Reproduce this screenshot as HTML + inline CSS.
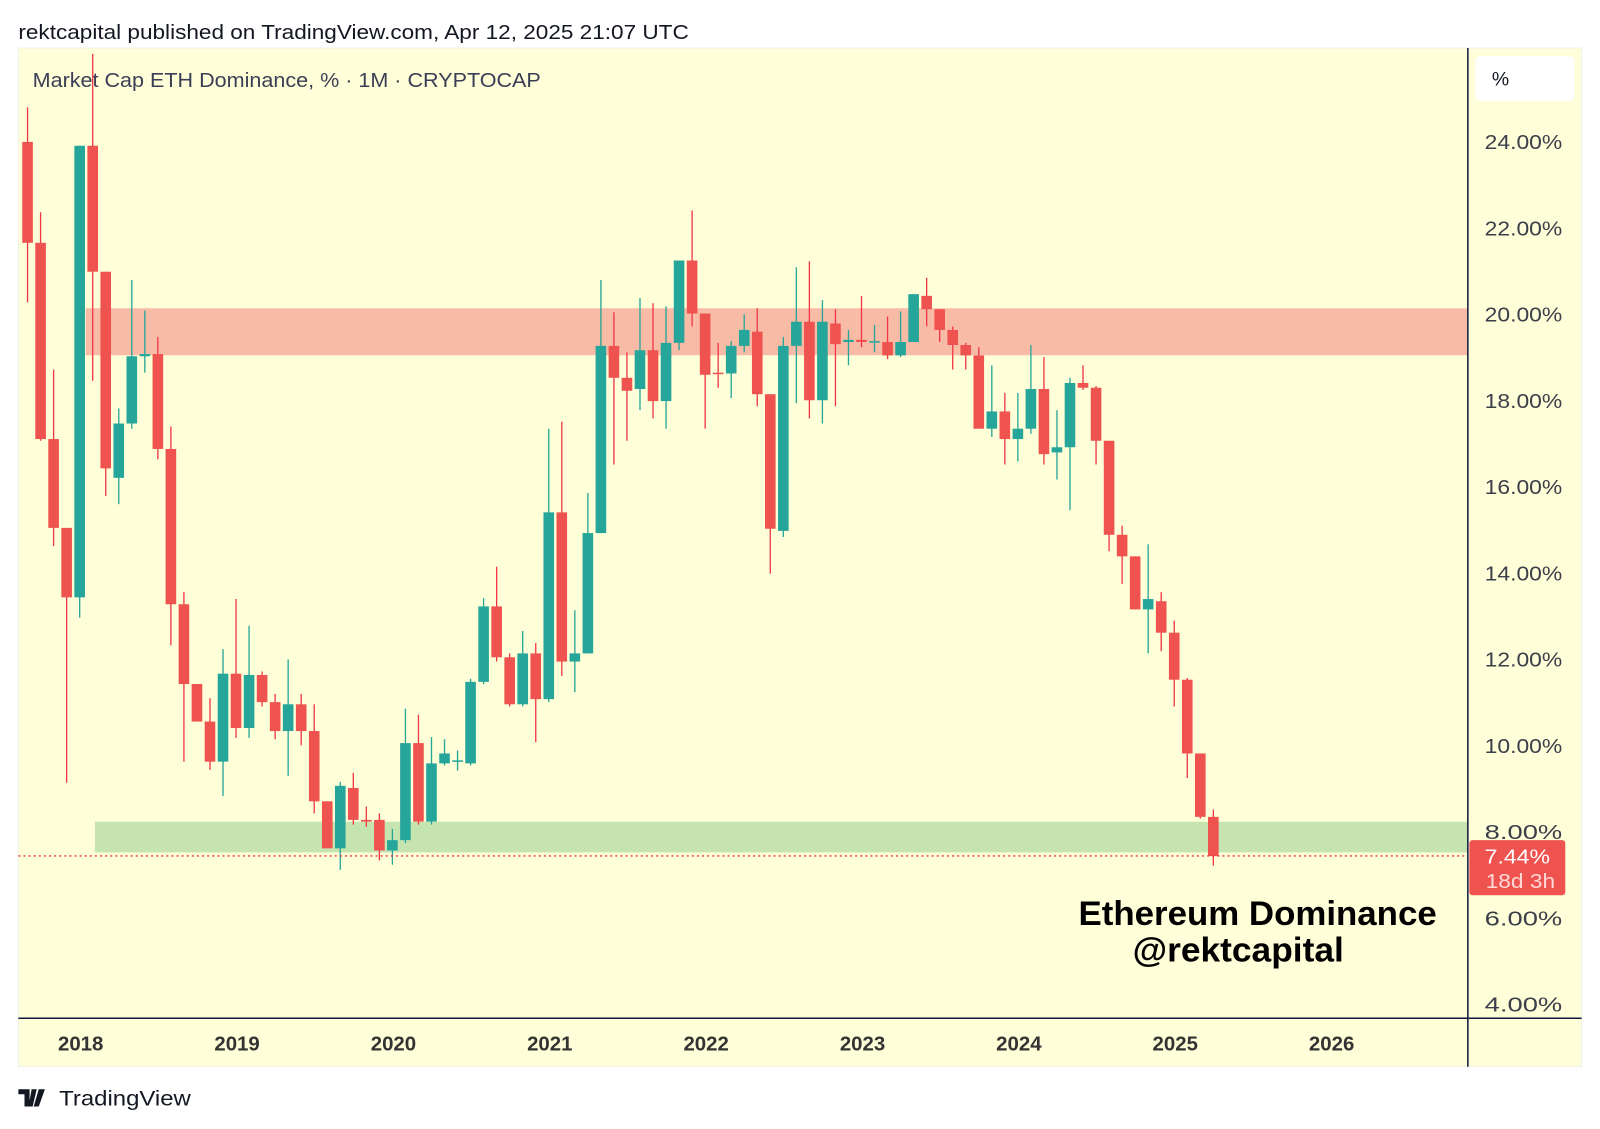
<!DOCTYPE html>
<html><head><meta charset="utf-8"><style>
html,body{margin:0;padding:0;background:#fff;width:1600px;height:1129px;overflow:hidden}
#wrap{width:1568px;height:1106px;transform:scale(1.0204,1.0208);transform-origin:0 0;position:relative;font-family:"Liberation Sans",sans-serif}
</style></head><body>
<div id="wrap">
<svg id="svg" width="1568" height="1106" viewBox="0 0 1568 1106">
<text x="18" y="38" font-size="20" fill="#131722" textLength="657" lengthAdjust="spacingAndGlyphs">rektcapital published on TradingView.com, Apr 12, 2025 21:07 UTC</text>
<rect x="18" y="47" width="1532" height="998" fill="#fefed8" stroke="#f0f0e8"/>
<rect x="84" y="302" width="1354" height="46" fill="#f8bba6"/>
<rect x="93" y="805" width="1345" height="30" fill="#c6e4b0"/>
<text x="32" y="85" font-size="20" fill="#3b3f55" textLength="498" lengthAdjust="spacingAndGlyphs">Market Cap ETH Dominance, % · 1M · CRYPTOCAP</text>
<g id="candles"></g>
<line x1="18" y1="838.5" x2="1438" y2="838.5" stroke="#ef3a3a" stroke-width="1.3" stroke-dasharray="2,3"/>
<line x1="1438.5" y1="47" x2="1438.5" y2="1045" stroke="#131a40" stroke-width="1.5"/>
<line x1="18" y1="997.5" x2="1550" y2="997.5" stroke="#131a40" stroke-width="1.5"/>
<g id="yticks"></g>
<g id="xticks"></g>
<rect x="1446" y="55" width="97" height="44" rx="5" fill="#fff"/>
<text x="1462" y="84" font-size="19" fill="#131722">%</text>
<rect x="1440" y="823" width="94" height="54" rx="3" fill="#ef5350"/>
<text x="1455" y="846" font-size="20" fill="#fff" textLength="64" lengthAdjust="spacingAndGlyphs">7.44%</text>
<text x="1456" y="870" font-size="20" fill="#ffd9d6" textLength="68" lengthAdjust="spacingAndGlyphs">18d 3h</text>
<text x="1057" y="906" font-size="34" font-weight="bold" fill="#000" textLength="351" lengthAdjust="spacingAndGlyphs">Ethereum Dominance</text>
<text x="1110" y="942" font-size="34" font-weight="bold" fill="#000" textLength="207" lengthAdjust="spacingAndGlyphs">@rektcapital</text>
<g>
<path d="M18 1067h11v17h-5v-12h-6z M31 1067h5l-4 17h-4z M38 1067h6l-6 17h-5z" fill="#131722"/>
<text x="58" y="1083" font-size="21" fill="#131722" textLength="129" lengthAdjust="spacingAndGlyphs">TradingView</text>
</g>
</svg>
</div>
<script>
const opens=[24.00,21.66,17.11,15.05,13.44,23.91,20.99,16.21,17.47,19.03,19.08,16.88,13.28,11.43,10.56,9.63,11.67,10.41,11.64,11.01,10.34,10.96,10.34,8.71,7.62,9.02,8.28,8.28,7.57,7.81,10.06,8.24,9.59,9.63,9.59,11.48,13.23,12.05,10.96,12.14,11.08,15.41,11.95,12.14,14.93,19.27,18.53,18.27,19.17,17.99,19.34,21.25,20.02,18.65,18.63,19.27,19.60,18.15,14.98,19.27,19.83,18.01,19.79,19.36,19.41,19.36,19.36,19.05,19.36,20.43,20.12,19.64,19.29,19.05,17.35,17.75,17.11,17.35,18.27,16.80,16.92,18.41,18.30,17.07,14.89,14.39,13.16,13.35,12.62,11.53,9.82,8.35];
const closes=[21.66,17.11,15.05,13.44,23.91,20.99,16.43,17.47,19.03,19.08,16.88,13.28,11.43,10.56,9.63,11.67,10.41,11.64,11.01,10.34,10.96,10.34,8.71,7.62,9.07,8.28,8.24,7.57,7.81,10.06,8.24,9.59,9.82,9.66,11.48,13.23,12.05,10.96,12.14,11.08,15.41,11.95,12.14,14.93,19.27,18.53,18.23,19.17,17.99,19.34,21.25,20.02,18.60,18.63,19.27,19.64,18.15,15.03,19.27,19.83,18.01,19.83,19.31,19.41,19.36,19.38,19.05,19.36,20.47,20.12,19.64,19.29,19.05,17.35,17.75,17.11,17.35,18.27,16.76,16.92,18.41,18.30,17.07,14.89,14.39,13.16,13.40,12.62,11.53,9.82,8.35,7.44];
const highs=[24.80,22.37,18.72,15.05,23.91,26.04,20.99,17.82,20.80,20.09,19.48,17.40,13.56,11.43,11.10,12.24,13.40,12.78,11.72,11.20,12.00,11.20,10.96,8.71,9.16,9.37,8.59,8.43,8.07,10.86,10.72,10.20,10.15,9.89,11.55,13.42,14.15,12.14,12.66,12.38,17.35,17.51,13.14,15.86,20.80,20.05,19.12,20.38,20.26,20.19,21.25,22.41,20.02,19.34,19.38,20.00,20.14,18.15,19.48,21.09,21.23,20.33,20.12,19.64,20.43,19.76,19.95,20.07,20.47,20.85,20.12,19.72,19.34,19.24,18.82,18.18,18.18,19.29,19.01,17.78,18.53,18.82,18.34,17.07,15.10,14.39,14.67,13.56,12.90,11.57,9.82,8.52];
const lows=[20.28,17.07,14.63,9.14,12.97,18.46,15.79,15.60,17.35,18.65,16.64,12.33,9.63,10.56,9.44,8.83,10.18,10.18,10.91,10.15,9.30,10.01,8.43,7.62,7.12,8.17,8.12,7.34,7.24,7.74,8.17,8.17,9.54,9.42,9.54,11.43,11.95,10.91,10.91,10.08,11.01,11.62,11.24,12.14,14.93,16.52,17.07,17.78,17.59,17.35,19.17,19.72,17.35,18.30,18.06,19.12,17.87,13.99,14.84,17.94,17.59,17.47,17.87,18.82,19.24,19.12,18.96,19.01,19.36,19.72,19.36,18.72,18.72,17.35,17.16,16.52,16.59,17.23,16.52,16.17,15.46,18.25,16.52,14.51,13.75,13.16,12.14,12.19,10.91,9.25,8.31,7.22];
const yTickValues=[24,22,20,18,16,14,12,10,8,6,4];
const xTickLabels=["2018","2019","2020","2021","2022","2023","2024","2025","2026"];
const xTickMonthIndex=[4,16,28,40,52,64,76,88,100];
const NS="http://www.w3.org/2000/svg";
function yScale(v){return 139+(24-v)*42.25;}
function xScale(i){return 27+i*12.77;}
const g=document.getElementById('candles');
for(let i=0;i<opens.length;i++){
  const up=closes[i]>=opens[i];
  const col=up?'#26a69a':'#ef5350';
  const wick=up?'#26a69a':'#f23645';
  const x=xScale(i);
  const ln=document.createElementNS(NS,'line');
  ln.setAttribute('x1',x);ln.setAttribute('x2',x);
  ln.setAttribute('y1',yScale(highs[i]));ln.setAttribute('y2',yScale(lows[i]));
  ln.setAttribute('stroke',wick);ln.setAttribute('stroke-width','1.3');
  
  
  g.appendChild(ln);
  const r=document.createElementNS(NS,'rect');
  const y1=yScale(Math.max(opens[i],closes[i])),y2=yScale(Math.min(opens[i],closes[i]));
  r.setAttribute('x',x-5.2);r.setAttribute('width',10.4);
  r.setAttribute('y',y1);r.setAttribute('height',Math.max(1.5,y2-y1));
  r.setAttribute('fill',col);
  
  
  g.appendChild(r);
}
const yt=document.getElementById('yticks');
yTickValues.forEach(v=>{
  const t=document.createElementNS(NS,'text');
  t.setAttribute('x',1455);t.setAttribute('y',yScale(v)+7);
  t.setAttribute('font-size','20');t.setAttribute('fill','#3b3f4a');
  t.setAttribute('textLength','76');t.setAttribute('lengthAdjust','spacingAndGlyphs');
  t.textContent=v.toFixed(2)+'%';
  
  
  yt.appendChild(t);
});
const xt=document.getElementById('xticks');
xTickLabels.forEach((lab,k)=>{
  const t=document.createElementNS(NS,'text');
  t.setAttribute('x',xScale(xTickMonthIndex[k])+1);t.setAttribute('y',1029);
  t.setAttribute('font-size','20');t.setAttribute('font-weight','bold');
  t.setAttribute('fill','#333');t.setAttribute('text-anchor','middle');
  t.textContent=lab;
  
  
  xt.appendChild(t);
});
</script>
</body></html>
